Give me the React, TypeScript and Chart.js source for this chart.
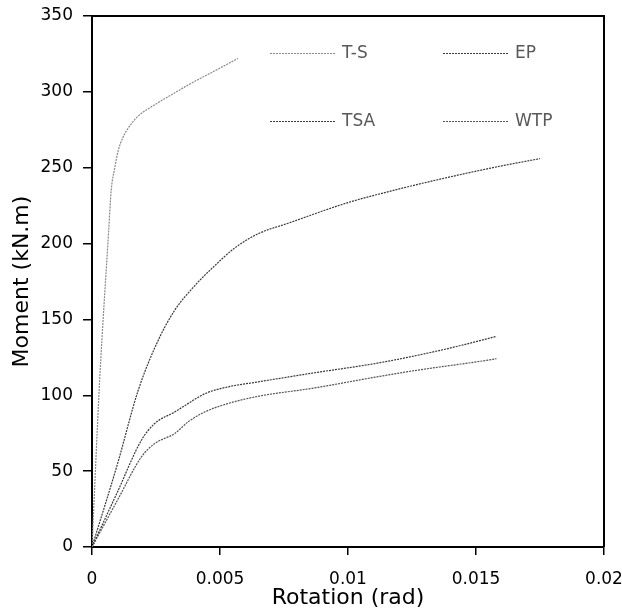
import { useEffect, useRef } from "react";
import { Chart, registerables } from "chart.js";

Chart.register(...registerables);

// Series names (legend order)
const seriesNames = ["T-S", "EP", "TSA", "WTP"];

// T-S
const tsRotation = [0, 0.0003, 0.00065, 0.00075, 0.00089, 0.00102, 0.00121, 0.00154, 0.0018, 0.00245, 0.0031, 0.00375, 0.0047, 0.0057];
const tsMoment = [0, 110, 208, 235, 250, 261, 270, 279, 284, 291.5, 298, 304.5, 313, 322];

// EP
const epRotation = [0, 0.001, 0.0018, 0.00258, 0.00323, 0.004, 0.0048, 0.00557, 0.00648, 0.00766, 0.01, 0.012, 0.014, 0.01594, 0.0175];
const epMoment = [0, 55, 103, 136, 156, 172, 185.5, 197, 206.4, 213.4, 227, 236, 244, 251, 256];

// TSA
const tsaRotation = [0, 0.001, 0.00193, 0.00245, 0.00323, 0.00375, 0.0044, 0.0053, 0.00648, 0.0086, 0.01125, 0.0137, 0.0158];
const tsaMoment = [0, 36.5, 70.4, 81.4, 89, 94.5, 101, 105.5, 108.8, 114.6, 121.5, 130, 138.8];

// WTP
const wtpRotation = [0, 0.001, 0.00193, 0.00245, 0.00323, 0.00375, 0.0044, 0.0053, 0.00648, 0.0086, 0.01125, 0.0125, 0.0154, 0.0158];
const wtpMoment = [0, 31, 59.4, 68.2, 74.8, 82.4, 89, 94.5, 99.3, 104.6, 112.5, 116, 123, 124.1];

// Axis ticks
const xTickValues = [0, 0.005, 0.01, 0.015, 0.02];
const yTickValues = [0, 50, 100, 150, 200, 250, 300, 350];

const FONT = "'DejaVu Sans', 'Open Sans', sans-serif";

function toPoints(xs: number[], ys: number[]) {
  return xs.map((x, i) => ({ x, y: ys[i] }));
}

const frameAndLegend = {
  id: "frameAndLegend",
  afterDatasetsDraw(chart: any) {
    const { ctx, chartArea } = chart;
    ctx.save();
    // top and right frame lines
    ctx.strokeStyle = "#000";
    ctx.lineWidth = 2;
    ctx.setLineDash([]);
    ctx.beginPath();
    ctx.moveTo(chartArea.left, chartArea.top);
    ctx.lineTo(chartArea.right, chartArea.top);
    ctx.lineTo(chartArea.right, chartArea.bottom);
    ctx.stroke();

    // legend in two columns inside the plot area
    const col1 = chartArea.left + 178;
    const col2 = chartArea.left + 351;
    const row1 = chartArea.top + 37;
    const row2 = chartArea.top + 105;
    const slots = [
      [col1, row1],
      [col2, row1],
      [col1, row2],
      [col2, row2],
    ];
    chart.data.datasets.forEach((ds: any, i: number) => {
      const [x, y] = slots[i];
      ctx.strokeStyle = ds.borderColor;
      ctx.lineWidth = ds.borderWidth;
      ctx.setLineDash(ds.borderDash || []);
      ctx.beginPath();
      ctx.moveTo(x, y + 0.5);
      ctx.lineTo(x + 65, y + 0.5);
      ctx.stroke();
      ctx.setLineDash([]);
      ctx.fillStyle = "#595959";
      ctx.font = `17px ${FONT}`;
      ctx.textAlign = "left";
      ctx.textBaseline = "middle";
      ctx.fillText(ds.label, x + 72, y + 1);
    });
    ctx.restore();
  },
};

export default function App() {
  const canvasRef = useRef<HTMLCanvasElement | null>(null);

  useEffect(() => {
    if (!canvasRef.current) return;
    const colors = ["#8a8a8a", "#3a3a3a", "#3a3a3a", "#555555"];
    const series = [
      toPoints(tsRotation, tsMoment),
      toPoints(epRotation, epMoment),
      toPoints(tsaRotation, tsaMoment),
      toPoints(wtpRotation, wtpMoment),
    ];
    const chart = new Chart(canvasRef.current, {
      type: "line",
      data: {
        datasets: series.map((data, i) => ({
          label: seriesNames[i],
          data,
          borderColor: colors[i],
          backgroundColor: colors[i],
          borderWidth: 1.2,
          borderDash: [2, 1],
          pointRadius: 0,
          fill: false,
          cubicInterpolationMode: "monotone" as const,
        })),
      },
      options: {
        animation: false,
        responsive: true,
        maintainAspectRatio: false,
        layout: { padding: { top: 16, right: 18, left: 0, bottom: 0 } },
        plugins: {
          legend: { display: false },
          tooltip: { enabled: false },
        },
        scales: {
          x: {
            type: "linear",
            min: 0,
            max: 0.02,
            afterFit: (scale: any) => {
              scale.height = 64;
              scale.paddingLeft = 0;
              scale.paddingRight = 0;
            },
            afterBuildTicks: (scale: any) => {
              scale.ticks = xTickValues.map((v) => ({ value: v }));
            },
            ticks: {
              color: "#000",
              font: { family: FONT, size: 17 },
              padding: 14,
              maxRotation: 0,
              autoSkip: false,
              callback: (v: any) => String(Number(Number(v).toFixed(4))),
            },
            grid: {
              display: true,
              drawOnChartArea: false,
              drawTicks: true,
              tickLength: 8,
              color: "#000",
              lineWidth: 1.5,
            },
            border: { display: true, color: "#000", width: 2 },
            title: {
              display: true,
              text: "Rotation (rad)",
              color: "#000",
              font: { family: FONT, size: 22 },
              padding: { top: 0, bottom: 0 },
            },
          },
          y: {
            type: "linear",
            min: 0,
            max: 350,
            afterFit: (scale: any) => {
              scale.width = 92;
              scale.paddingTop = 0;
              scale.paddingBottom = 0;
            },
            afterBuildTicks: (scale: any) => {
              scale.ticks = yTickValues.map((v) => ({ value: v }));
            },
            ticks: {
              color: "#000",
              font: { family: FONT, size: 17 },
              padding: 10,
              autoSkip: false,
            },
            grid: {
              display: true,
              drawOnChartArea: false,
              drawTicks: true,
              tickLength: 9,
              color: "#000",
              lineWidth: 1.5,
            },
            border: { display: true, color: "#000", width: 2 },
            title: {
              display: true,
              text: "Moment (kN.m)",
              color: "#000",
              font: { family: FONT, size: 22 },
              padding: { top: 9, bottom: 0 },
            },
          },
        },
      },
      plugins: [frameAndLegend],
    });
    return () => chart.destroy();
  }, []);

  return (
    <div style={{ position: "fixed", left: 0, top: 0, width: 622, height: 611, background: "#fff" }}>
      <canvas ref={canvasRef} />
    </div>
  );
}
